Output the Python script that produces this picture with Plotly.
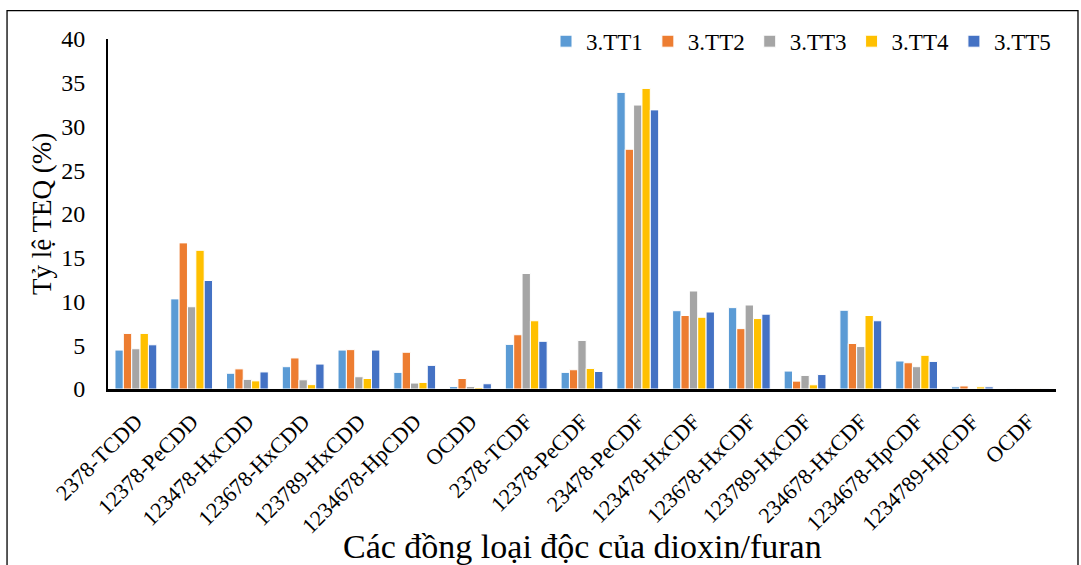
import plotly.graph_objects as go

categories = ["2378-TCDD", "12378-PeCDD", "123478-HxCDD", "123678-HxCDD", "123789-HxCDD",
              "1234678-HpCDD", "OCDD", "2378-TCDF", "12378-PeCDF", "23478-PeCDF",
              "123478-HxCDF", "123678-HxCDF", "123789-HxCDF", "234678-HxCDF",
              "1234678-HpCDF", "1234789-HpCDF", "OCDF"]

tt1 = [4.45, 10.3, 1.8, 2.55, 4.45, 1.9, 0.28, 5.1, 1.9, 33.9, 8.95, 9.3, 2.05, 9.0, 3.2, 0.25, 0.02]
tt2 = [6.35, 16.7, 2.3, 3.55, 4.5, 4.2, 1.2, 6.2, 2.2, 27.4, 8.4, 6.9, 0.9, 5.2, 3.0, 0.35, 0.02]
tt3 = [4.6, 9.4, 1.1, 1.05, 1.4, 0.68, 0.28, 13.2, 5.55, 32.45, 11.2, 9.6, 1.55, 4.85, 2.55, 0.05, 0.02]
tt4 = [6.35, 15.85, 0.93, 0.5, 1.2, 0.75, 0.17, 7.8, 2.35, 34.35, 8.2, 8.05, 0.48, 8.4, 3.85, 0.25, 0.02]
tt5 = [5.05, 12.4, 1.95, 2.85, 4.45, 2.7, 0.6, 5.45, 2.0, 31.9, 8.8, 8.55, 1.65, 7.8, 3.15, 0.25, 0.02]

series = [("3.TT1", tt1, "#5B9BD5"), ("3.TT2", tt2, "#ED7D31"), ("3.TT3", tt3, "#A5A5A5"),
          ("3.TT4", tt4, "#FFC000"), ("3.TT5", tt5, "#4472C4")]

font_family = "Liberation Serif, Times New Roman, serif"

fig = go.Figure()
for name, vals, color in series:
    fig.add_trace(go.Bar(
        x=categories, y=vals, name=name,
        marker=dict(color=color, line=dict(color="white", width=1)),
    ))

fig.update_layout(
    width=1081, height=565,
    margin=dict(l=108, r=25, t=39, b=176),
    paper_bgcolor="white", plot_bgcolor="white",
    barmode="group", bargap=0.25, bargroupgap=0.0,
    font=dict(family=font_family, color="black"),
    legend=dict(
        orientation="h", x=1.0, xanchor="right", y=1.055, yanchor="top",
        font=dict(size=23, family=font_family), itemwidth=30,
        bgcolor="rgba(0,0,0,0)", traceorder="normal",
    ),
    xaxis=dict(
        tickangle=-45, tickfont=dict(size=22, family=font_family),
        showline=True, linecolor="black", linewidth=3, ticks="",
        ticklabelstandoff=8,
        showgrid=False,
    ),
    yaxis=dict(
        range=[0, 40], dtick=5, tick0=0,
        tickfont=dict(size=24, family=font_family),
        showline=True, linecolor="black", linewidth=2, ticks="",
        ticklabelstandoff=16,
        showgrid=False, zeroline=False,
    ),
    annotations=[
        dict(text="Các đồng loại độc của dioxin/furan", xref="paper", yref="paper",
             x=0.5, y=-0.45, xanchor="center", yanchor="middle", showarrow=False,
             font=dict(size=34, family=font_family)),
        dict(text="Tỷ lệ TEQ (%)", xref="paper", yref="paper", textangle=-90,
             x=-0.0696, y=0.5, xanchor="center", yanchor="middle", showarrow=False,
             font=dict(size=27, family=font_family)),
    ],
    shapes=[dict(type="rect", xref="paper", yref="paper",
                 x0=-0.1065, x1=1.0232, y0=-0.7, y1=1.081,
                 line=dict(color="black", width=1.3), fillcolor="rgba(0,0,0,0)")],
)

fig.write_html("out.html")
